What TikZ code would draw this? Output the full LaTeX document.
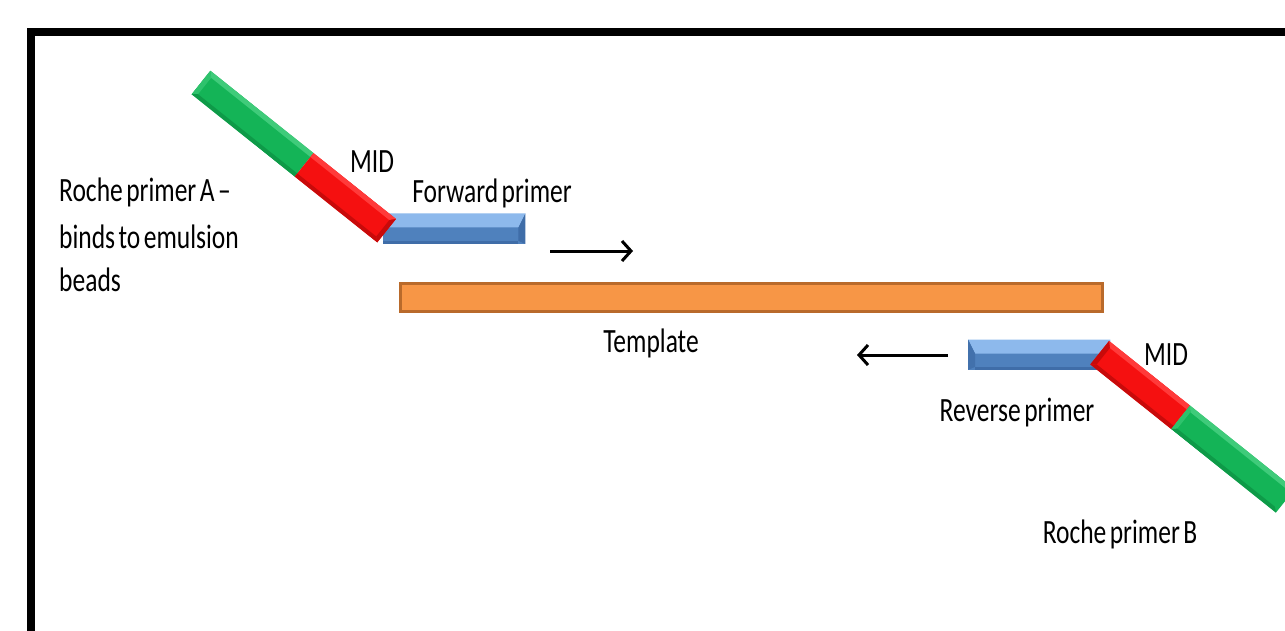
\documentclass[tikz,border=0pt]{standalone}
\usepackage{fontspec}
\setmainfont{Carlito}[FakeStretch=0.75, WordSpace=0.6]
\usetikzlibrary{arrows.meta}
\definecolor{greenM}{HTML}{14B457}
\definecolor{greenL}{HTML}{3FCB7A}
\definecolor{greenD}{HTML}{0E9A48}
\definecolor{redM}{HTML}{F51010}
\definecolor{redL}{HTML}{FF3A3A}
\definecolor{redD}{HTML}{C80A0A}
\definecolor{blueM}{HTML}{4F81BD}
\definecolor{blueL}{HTML}{8DB9EC}
\definecolor{blueD}{HTML}{3F6DA8}
\definecolor{orangeM}{HTML}{F79646}
\definecolor{orangeD}{HTML}{B96A2B}
\begin{document}
\begin{tikzpicture}[x=1pt,y=-1pt,
  lbl/.style={font=\fontsize{34}{40}\selectfont, inner sep=0pt, anchor=base},
  arr/.style={line width=3pt, -{Straight Barb[length=9pt,width=20pt]}},
  bluebar/.style={fill=blueM, minimum width=142, minimum height=30, inner sep=0pt, anchor=north west}
  ]
\clip (0,0) rectangle (1285,631);
\fill[white] (0,0) rectangle (1285,631);
% frame
\draw[line width=8pt] (31,32) rectangle (1330,700);

% template
\node[draw=orangeD, fill=orangeM, line width=3pt, minimum width=702, minimum height=28,
      inner sep=0pt, anchor=north west] (template) at (398.5,281.5) {};

% blue primers
\node[bluebar] (blueA) at (383,213.5) {};
\fill[blueL] (blueA.north west) -- (blueA.north east) -- ([xshift=-7pt,yshift=-14pt]blueA.north east) -- ([yshift=-14pt]blueA.north west) -- cycle;
\fill[blueD] (blueA.north east) -- (blueA.south east) -- ([xshift=-7pt,yshift=3pt]blueA.south east) -- ([xshift=-7pt,yshift=-14pt]blueA.north east) -- cycle;
\fill[blueD] (blueA.south west) -- ([xshift=-7pt]blueA.south east) -- ([xshift=-7pt,yshift=3pt]blueA.south east) -- ([yshift=3pt]blueA.south west) -- cycle;

\node[bluebar] (blueB) at (968,339.5) {};
\fill[blueL] (blueB.north west) -- (blueB.north east) -- ([yshift=-14pt]blueB.north east) -- ([xshift=7pt,yshift=-14pt]blueB.north west) -- cycle;
\fill[blueD!80!blueM] (blueB.north west) -- ([xshift=7pt,yshift=-14pt]blueB.north west) -- ([xshift=7pt,yshift=3pt]blueB.south west) -- (blueB.south west) -- cycle;
\fill[blueD] ([xshift=7pt]blueB.south west) -- (blueB.south east) -- ([yshift=3pt]blueB.south east) -- ([xshift=7pt,yshift=3pt]blueB.south west) -- cycle;

% Roche primer A + MID (tilted)
\begin{scope}[shift={(201,82.5)}, rotate=-38.6]
  \fill[greenM] (0,-15) rectangle (132,15);
  \fill[greenL] (0,-15) -- (132,-15) -- (132,-10) -- (5,-10) -- cycle;
  \fill[greenL!60!greenM] (0,-15) -- (5,-10) -- (5,11) -- (0,15) -- cycle;
  \fill[greenD] (0,15) -- (132,15) -- (132,11) -- (5,11) -- cycle;
  \fill[redM] (132,-15) rectangle (237.5,15);
  \fill[redL] (132,-15) -- (237.5,-15) -- (233,-10) -- (132,-10) -- cycle;
  \fill[redD] (237.5,-15) -- (233,-10) -- (233,11) -- (237.5,15) -- cycle;
  \fill[redD] (132,15) -- (237.5,15) -- (233,11) -- (132,11) -- cycle;
  \coordinate (rocheAend) at (0,0);
  \coordinate (midAend) at (237.5,0);
\end{scope}

% Roche primer B + MID (tilted)
\begin{scope}[shift={(1099.7,352.7)}, rotate=-38.6]
  \fill[redM] (0,-15) rectangle (103.6,15);
  \fill[redL] (0,-15) -- (103.6,-15) -- (103.6,-10) -- (5,-10) -- cycle;
  \fill[redD] (0,-15) -- (5,-10) -- (5,11) -- (0,15) -- cycle;
  \fill[redD] (0,15) -- (103.6,15) -- (103.6,11) -- (5,11) -- cycle;
  \fill[greenM] (103.6,-15) rectangle (237.5,15);
  \fill[greenL] (103.6,-15) -- (237.5,-15) -- (233,-10) -- (108,-10) -- cycle;
  \fill[greenL!60!greenM] (103.6,-15) -- (108,-10) -- (108,11) -- (103.6,15) -- cycle;
  \fill[greenD] (103.6,15) -- (237.5,15) -- (233,11) -- (108,11) -- cycle;
  \coordinate (midBstart) at (0,0);
  \coordinate (rocheBend) at (237.5,0);
\end{scope}

% arrows
\coordinate (fa0) at (550,251);
\coordinate (fa1) at (633,251);
\draw[arr] (fa0) -- (fa1);
\coordinate (ra0) at (948,355);
\coordinate (ra1) at (857,355);
\draw[arr] (ra0) -- (ra1);

% labels
\node[lbl] (midA) at (372,173) {MID};
\node[lbl] (fwd) at (492,203) {Forward primer};
\node[lbl, anchor=base west] (rocheA1) at (59,202) {Roche primer A –};
\node[lbl, anchor=base west] (rocheA2) at (59,248) {binds to emulsion};
\node[lbl, anchor=base west] (rocheA3) at (59,291) {beads};
\node[lbl] (tmpl) at (651,352) {Template};
\node[lbl] (midB) at (1166,365) {MID};
\node[lbl] (rev) at (1017,421) {Reverse primer};
\node[lbl] (rocheB) at (1120,543) {Roche primer B};
\end{tikzpicture}
\end{document}
